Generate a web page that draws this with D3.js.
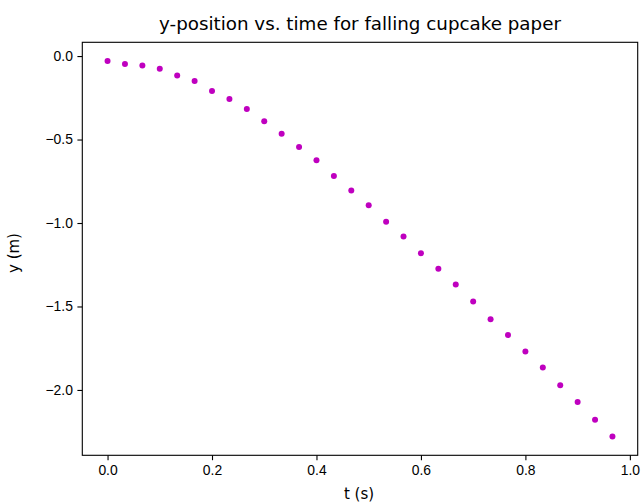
<!DOCTYPE html>
<html>
<head>
<meta charset="utf-8">
<script src="https://cdnjs.cloudflare.com/ajax/libs/d3/7.8.5/d3.min.js"></script>
<style>
  body { margin: 0; background: #fff; }
  svg { display: block; font-family: "DejaVu Sans", sans-serif; }
  .tick text { font-size: 13.9px; fill: #000; }
</style>
</head>
<body>
<div id="chart"></div>
<script>
// frame spacing 1/30 s
var times = d3.range(30).map(function(i) { return i / 30; });
var yPos = [-0.030, -0.048, -0.056, -0.076, -0.116, -0.150, -0.209, -0.257, -0.317, -0.391,
            -0.465, -0.544, -0.624, -0.718, -0.806, -0.893, -0.993, -1.081, -1.181, -1.274,
            -1.368, -1.470, -1.577, -1.671, -1.770, -1.866, -1.972, -2.072, -2.179, -2.279];
var xTicks = [0.0, 0.2, 0.4, 0.6, 0.8, 1.0];
var yTicks = [0.0, -0.5, -1.0, -1.5, -2.0];

var width = 643, height = 502;
var margin = {top: 42.3, right: 5.3, bottom: 46.7, left: 82.3};

var svg = d3.select("#chart").append("svg")
    .attr("width", width)
    .attr("height", height);

// matplotlib style 5% margins around the data
function padded(ext) {
    var d = (ext[1] - ext[0]) * 0.05;
    return [ext[0] - d, ext[1] + d];
}

var x = d3.scaleLinear()
    .domain(padded(d3.extent(times)))
    .range([margin.left, width - margin.right]);

var y = d3.scaleLinear()
    .domain(padded(d3.extent(yPos)))
    .range([height - margin.bottom, margin.top]);

var fmt = function(d) { return d3.format(".1f")(d).replace("-", "\u2212"); };

var xAxis = svg.append("g")
    .attr("transform", "translate(0," + (height - margin.bottom) + ")")
    .call(d3.axisBottom(x).tickValues(xTicks).tickFormat(fmt).tickSize(4.9).tickPadding(4.5));

var yAxis = svg.append("g")
    .attr("transform", "translate(" + margin.left + ",0)")
    .call(d3.axisLeft(y).tickValues(yTicks).tickFormat(fmt).tickSize(4.9).tickPadding(4.5));

svg.selectAll(".domain").remove();
svg.selectAll(".tick line").attr("stroke", "#000").attr("stroke-width", 1.1);
svg.selectAll(".tick text").attr("font-family", null).attr("font-size", null);

// axes frame
svg.append("rect")
    .attr("x", margin.left)
    .attr("y", margin.top)
    .attr("width", width - margin.left - margin.right)
    .attr("height", height - margin.top - margin.bottom)
    .attr("fill", "none")
    .attr("stroke", "#000")
    .attr("stroke-width", 1.1);

svg.append("g").selectAll("circle")
    .data(times)
    .enter().append("circle")
        .attr("cx", function(d) { return x(d); })
        .attr("cy", function(d, i) { return y(yPos[i]); })
        .attr("r", 3)
        .attr("fill", "#bf00bf");

svg.append("text")
    .attr("x", (margin.left + width - margin.right) / 2)
    .attr("y", 30)
    .attr("text-anchor", "middle")
    .attr("font-size", 18.3)
    .text("y-position vs. time for falling cupcake paper");

svg.append("text")
    .attr("x", (margin.left + width - margin.right) / 2 - 1)
    .attr("y", 499)
    .attr("text-anchor", "middle")
    .attr("font-size", 15)
    .text("t (s)");

svg.append("text")
    .attr("transform", "translate(18.5,253) rotate(-90)")
    .attr("text-anchor", "middle")
    .attr("font-size", 15)
    .text("y (m)");
</script>
</body>
</html>
